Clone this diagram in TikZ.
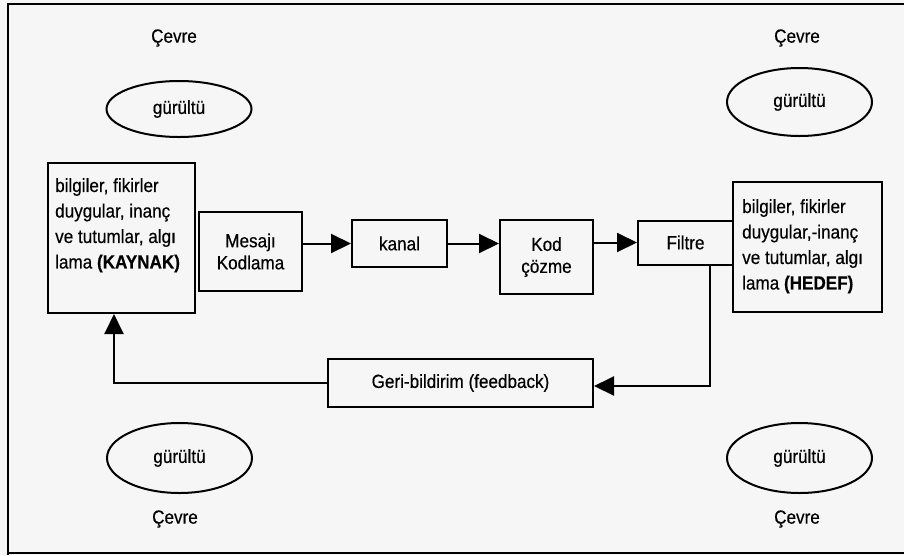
\documentclass[tikz,border=0pt]{standalone}
\usepackage{fontspec}
\setmainfont{Liberation Sans}[FakeStretch=0.9,FakeBold=0.4]
\usetikzlibrary{arrows.meta,shapes.geometric}
\definecolor{paper}{HTML}{F6F6F6}
\begin{document}
\begin{tikzpicture}[x=1pt,y=-1pt,
  every node/.style={font=\fontsize{19}{22}\selectfont},
  box/.style={draw, line width=2pt, inner sep=0pt, align=center},
  txt/.style={inner sep=0pt, align=left, anchor=north west, font=\fontsize{19}{25.5}\selectfont},
  ell/.style={draw, ellipse, line width=2pt, inner sep=0pt, minimum width=145pt},
  lbl/.style={inner sep=0pt},
  arr/.style={line width=2pt, -{Triangle[length=20pt,width=19pt]}}]
\fill[paper] (0,0) rectangle (904,555);
\useasboundingbox (0,0) rectangle (904,555);
\draw[line width=2pt] (8,555) -- (8,4) -- (904,4);
\draw[line width=2pt] (8,553) -- (904,553);

% environment labels and noise ellipses
\node[lbl] (cevre1) at (174,38) {Çevre};
\node[lbl] (cevre2) at (797,38) {Çevre};
\node[lbl] (cevre3) at (175,519) {Çevre};
\node[lbl] (cevre4) at (797,519) {Çevre};
\node[ell, minimum height=56pt] (g1) at (179,109) {gürültü};
\node[ell, minimum height=68pt] (g2) at (799.5,102) {gürültü};
\node[ell, minimum height=70pt] (g3) at (179.5,458) {gürültü};
\node[ell, minimum height=70pt] (g4) at (799.5,458) {gürültü};

% source
\node[box, minimum width=147pt, minimum height=150pt] (src) at (121.5,238) {};
\node[txt] (srctxt) at ([xshift=8pt,yshift=-16pt]src.north west)
  {bilgiler, fikirler\\duygular, inanç\\ve tutumlar, algı\\lama \textbf{(KAYNAK)}};

% chain
\node[box, minimum width=103pt, minimum height=79pt] (mes) at (250.5,251.5) {Mesajı\\Kodlama};
\node[box, minimum width=95pt, minimum height=47pt] (kanal) at (399.5,243.5) {kanal};
\node[box, minimum width=93pt, minimum height=74pt] (kod) at (546.5,257) {Kod\\çözme};
\node[box, minimum width=95pt, minimum height=44pt] (fil) at (685.5,242.5) {Filtre};

% target
\node[box, minimum width=149pt, minimum height=130pt] (hed) at (807.5,247) {};
\node[txt] (hedtxt) at ([xshift=10pt,yshift=-18pt]hed.north west)
  {bilgiler, fikirler\\duygular,-inanç\\ve tutumlar, algı\\lama \textbf{(HEDEF)}};

% feedback
\node[box, minimum width=265pt, minimum height=48pt] (fb) at (460.5,383) {Geri-bildirim (feedback)};

% arrows
\draw[arr] (mes.east |- kanal.west) -- (kanal.west);
\draw[arr] (kanal.east) -- (kod.west |- kanal.east);
\draw[arr] (kod.east |- fil.west) -- (fil.west);
\coordinate (fbtop) at ([xshift=24pt]fil.south);
\draw[arr] (fbtop) |- ([yshift=-3pt]fb.east);
\coordinate (srcbot) at ([xshift=-7.5pt]src.south);
\draw[arr] (fb.west) -| (srcbot);
\end{tikzpicture}
\end{document}
